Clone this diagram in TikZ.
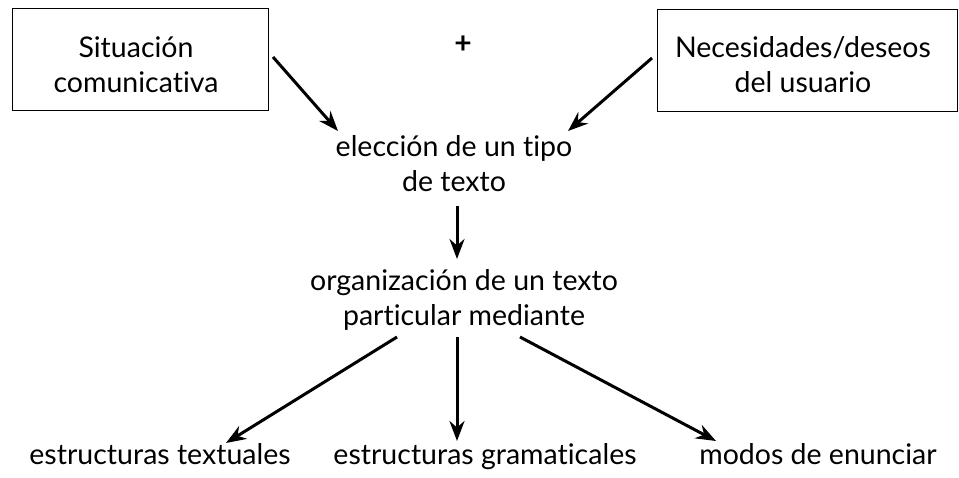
\documentclass[tikz,border=0pt]{standalone}
\usepackage{fontspec}
\setmainfont[RawFeature={-liga;-clig;-dlig}]{Lato}
\usetikzlibrary{arrows.meta}
\begin{document}
\begin{tikzpicture}[x=1pt,y=-1pt,
  txt/.style={font=\fontsize{28.5}{35}\selectfont, align=center, inner sep=0pt},
  boxed/.style={draw, line width=1pt, minimum width=256pt, minimum height=102pt, inner sep=0pt},
  arr/.style={line width=3pt, -{Stealth[length=20pt,width=15pt]}}]
\useasboundingbox (0,0) rectangle (959,477);
\node[boxed] (sitbox) at (140,59) {};
\node[txt] (sit) at (136,65) {Situación\\comunicativa};
\node[boxed, minimum width=300pt] (necbox) at (807,60) {};
\node[txt] (nec) at (803,65) {Necesidades/deseos\\del usuario};
\node[txt, font=\fontsize{30}{30}\selectfont\bfseries] (plus) at (463,45) {+};
\node[txt] (elec) at (454,164) {elección de un tipo\\de texto};
\node[txt] (org) at (464,300) {organización de un texto\\particular mediante};
\node[txt, anchor=base] (est1) at (160,464) {estructuras textuales};
\node[txt, anchor=base] (est2) at (485,464) {estructuras gramaticales};
\node[txt, anchor=base] (modos) at (818,464) {modos de enunciar};
\coordinate (a1s) at (273,57);
\coordinate (a1e) at (338,131);
\coordinate (a2s) at (652,58);
\coordinate (a2e) at (568,131);
\coordinate (a3s) at (457,206);
\coordinate (a3e) at (457,259);
\coordinate (b1s) at (397,337);
\coordinate (b1e) at (226,443);
\coordinate (b2s) at (457,337);
\coordinate (b2e) at (457,441);
\coordinate (b3s) at (520,337);
\coordinate (b3e) at (716,441);
\draw[arr] (a1s) -- (a1e);
\draw[arr] (a2s) -- (a2e);
\draw[arr] (a3s) -- (a3e);
\draw[arr] (b1s) -- (b1e);
\draw[arr] (b2s) -- (b2e);
\draw[arr] (b3s) -- (b3e);
\end{tikzpicture}
\end{document}
